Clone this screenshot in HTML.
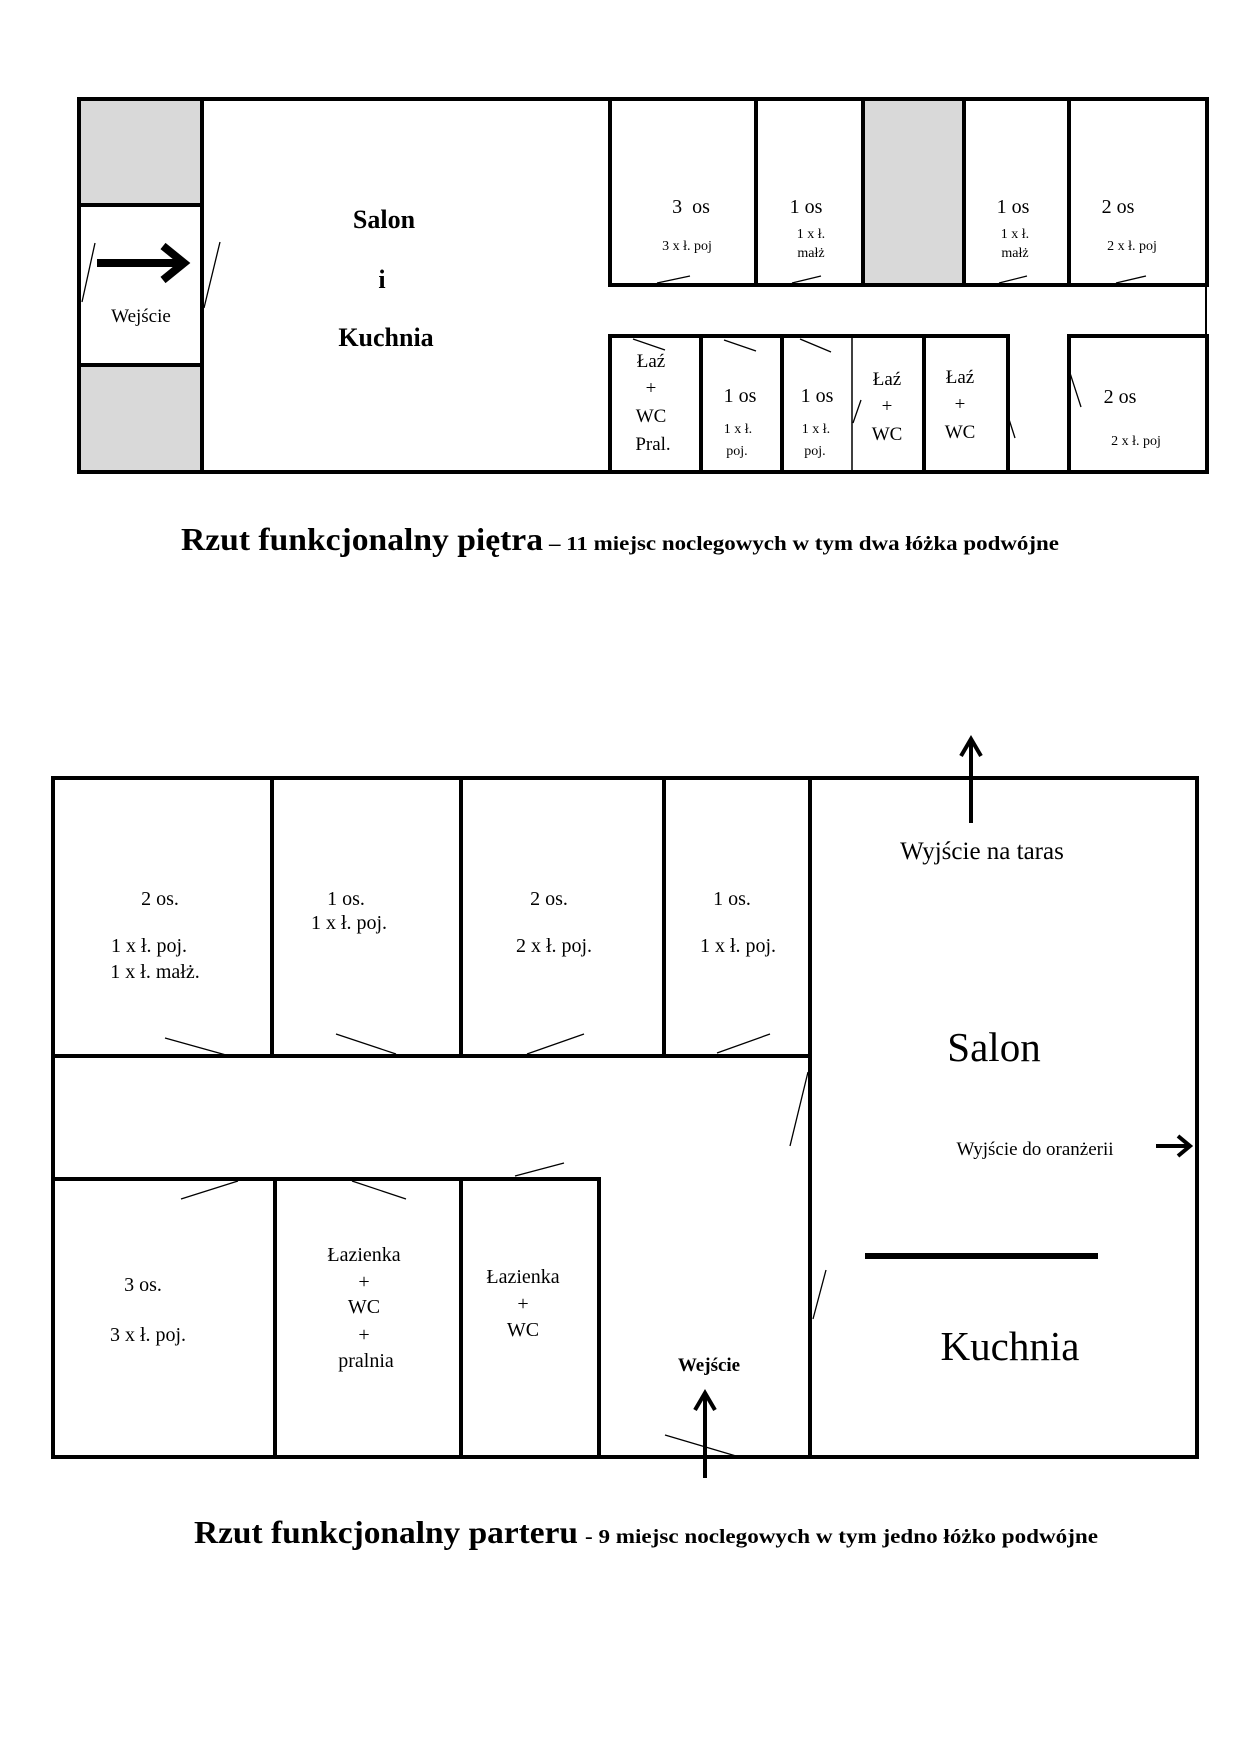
<!DOCTYPE html>
<html><head><meta charset="utf-8"><style>
html,body{margin:0;padding:0;background:#fff}
svg{display:block}
text{font-family:"Liberation Serif","DejaVu Serif",serif;fill:#000}
.w{stroke:#000;stroke-width:4;fill:none;stroke-linecap:square}
.d{stroke:#000;stroke-width:1.3;fill:none}
.b{font-weight:bold}
</style></head><body>
<svg width="1241" height="1755" viewBox="0 0 1241 1755" xmlns="http://www.w3.org/2000/svg">
<!-- TOP PLAN -->
<rect x="79" y="99" width="123" height="106" fill="#d9d9d9"/>
<rect x="79" y="365" width="123" height="107" fill="#d9d9d9"/>
<rect x="863" y="99" width="101" height="186" fill="#d9d9d9"/>
<path class="w" d="M79 99 H1207 V285 M1207 336 V472 H79 V99"/>
<path d="M1206 285 V336" stroke="#000" stroke-width="2"/>
<path class="w" d="M202 99 V472 M79 205 H202 M79 365 H202"/>
<path class="w" d="M610 99 V285 H1207 M756 99 V285 M863 99 V285 M964 99 V285 M1069 99 V285"/>
<path class="w" d="M610 336 H1008 V472 M610 336 V472 M701 336 V472 M782 336 V472 M924 336 V472"/>
<path d="M852 336 V472" stroke="#000" stroke-width="1.5"/>
<path class="w" d="M1069 336 H1207 M1069 336 V472"/>
<!-- door lines top -->
<path class="d" d="M95 243 L82 302 M220 242 L204 308 M657 283 L690 276 M792 283 L821 276 M999 283 L1027 276 M1116 283 L1146 276 M633 339 L665 350 M724 340 L756 351 M800 339 L831 352 M861 400 L853 423 M1007 413 L1015 438 M1070 373 L1081 407"/>
<!-- arrow -->
<path d="M97 263 H178" stroke="#000" stroke-width="8"/>
<path d="M163 246 L184 263 L163 280" stroke="#000" stroke-width="8" fill="none" stroke-linejoin="miter"/>
<text x="141" y="322" font-size="19" text-anchor="middle">Wejście</text>
<text class="b" x="384" y="228" font-size="26" text-anchor="middle">Salon</text>
<text class="b" x="382" y="288" font-size="26" text-anchor="middle">i</text>
<text class="b" x="386" y="346" font-size="26" text-anchor="middle">Kuchnia</text>
<text x="691" y="213" font-size="20" text-anchor="middle" xml:space="preserve">3  os</text>
<text x="687" y="250" font-size="14" text-anchor="middle">3 x ł. poj</text>
<text x="806" y="213" font-size="20" text-anchor="middle">1 os</text>
<text x="811" y="238" font-size="14" text-anchor="middle">1 x ł.</text>
<text x="811" y="257" font-size="14" text-anchor="middle">małż</text>
<text x="1013" y="213" font-size="20" text-anchor="middle">1 os</text>
<text x="1015" y="238" font-size="14" text-anchor="middle">1 x ł.</text>
<text x="1015" y="257" font-size="14" text-anchor="middle">małż</text>
<text x="1118" y="213" font-size="20" text-anchor="middle">2 os</text>
<text x="1132" y="250" font-size="14" text-anchor="middle">2 x ł. poj</text>
<text x="651" y="367" font-size="19" text-anchor="middle">Łaź</text>
<text x="651" y="394" font-size="19" text-anchor="middle">+</text>
<text x="651" y="422" font-size="19" text-anchor="middle">WC</text>
<text x="653" y="450" font-size="19" text-anchor="middle">Pral.</text>
<text x="740" y="402" font-size="20" text-anchor="middle">1 os</text>
<text x="738" y="433" font-size="14" text-anchor="middle">1 x ł.</text>
<text x="737" y="455" font-size="14" text-anchor="middle">poj.</text>
<text x="817" y="402" font-size="20" text-anchor="middle">1 os</text>
<text x="816" y="433" font-size="14" text-anchor="middle">1 x ł.</text>
<text x="815" y="455" font-size="14" text-anchor="middle">poj.</text>
<text x="887" y="385" font-size="19" text-anchor="middle">Łaź</text>
<text x="887" y="412" font-size="19" text-anchor="middle">+</text>
<text x="887" y="440" font-size="19" text-anchor="middle">WC</text>
<text x="960" y="383" font-size="19" text-anchor="middle">Łaź</text>
<text x="960" y="410" font-size="19" text-anchor="middle">+</text>
<text x="960" y="438" font-size="19" text-anchor="middle">WC</text>
<text x="1120" y="403" font-size="20" text-anchor="middle">2 os</text>
<text x="1136" y="445" font-size="14" text-anchor="middle">2 x ł. poj</text>
<text class="b" x="181" y="550" font-size="32" textLength="362" lengthAdjust="spacingAndGlyphs">Rzut funkcjonalny piętra</text>
<text class="b" x="549" y="550" font-size="20" textLength="510" lengthAdjust="spacingAndGlyphs">– 11 miejsc noclegowych w tym dwa łóżka podwójne</text>

<!-- BOTTOM PLAN -->
<path class="w" d="M53 778 H1197 V1457 H53 Z"/>
<path class="w" d="M810 778 V1457 M272 778 V1056 M461 778 V1056 M664 778 V1056 M53 1056 H810"/>
<path class="w" d="M53 1179 H599 V1457 M275 1179 V1457 M461 1179 V1457"/>
<path d="M865 1256 H1098" stroke="#000" stroke-width="6"/>
<path class="d" d="M165 1038 L226 1055 M336 1034 L396 1054 M584 1034 L527 1054 M770 1034 L717 1053 M808 1072 L790 1146 M181 1199 L238 1181 M352 1181 L406 1199 M515 1176 L564 1163 M826 1270 L813 1319 M665 1435 L736 1456"/>
<!-- arrows -->
<path d="M971 823 V742" stroke="#000" stroke-width="4"/>
<path d="M961 756 L971 739 L981 756" stroke="#000" stroke-width="4" fill="none"/>
<path d="M705 1478 V1396" stroke="#000" stroke-width="4"/>
<path d="M695 1410 L705 1393 L715 1410" stroke="#000" stroke-width="4" fill="none"/>
<path d="M1156 1146 H1188" stroke="#000" stroke-width="4"/>
<path d="M1178 1136 L1190 1146 L1178 1156" stroke="#000" stroke-width="4" fill="none"/>
<text x="982" y="859" font-size="25" text-anchor="middle">Wyjście na taras</text>
<text x="994" y="1061" font-size="41" text-anchor="middle">Salon</text>
<text x="1010" y="1360" font-size="41" text-anchor="middle">Kuchnia</text>
<text x="1035" y="1155" font-size="19" text-anchor="middle">Wyjście do oranżerii</text>
<text class="b" x="709" y="1371" font-size="19" text-anchor="middle">Wejście</text>
<text x="160" y="905" font-size="20" text-anchor="middle">2 os.</text>
<text x="149" y="952" font-size="20" text-anchor="middle">1 x ł. poj.</text>
<text x="155" y="978" font-size="20" text-anchor="middle">1 x ł. małż.</text>
<text x="346" y="905" font-size="20" text-anchor="middle">1 os.</text>
<text x="349" y="929" font-size="20" text-anchor="middle">1 x ł. poj.</text>
<text x="549" y="905" font-size="20" text-anchor="middle">2 os.</text>
<text x="554" y="952" font-size="20" text-anchor="middle">2 x ł. poj.</text>
<text x="732" y="905" font-size="20" text-anchor="middle">1 os.</text>
<text x="738" y="952" font-size="20" text-anchor="middle">1 x ł. poj.</text>
<text x="143" y="1291" font-size="20" text-anchor="middle">3 os.</text>
<text x="148" y="1341" font-size="20" text-anchor="middle">3 x ł. poj.</text>
<text x="364" y="1261" font-size="20" text-anchor="middle">Łazienka</text>
<text x="364" y="1288" font-size="20" text-anchor="middle">+</text>
<text x="364" y="1313" font-size="20" text-anchor="middle">WC</text>
<text x="364" y="1341" font-size="20" text-anchor="middle">+</text>
<text x="366" y="1367" font-size="20" text-anchor="middle">pralnia</text>
<text x="523" y="1283" font-size="20" text-anchor="middle">Łazienka</text>
<text x="523" y="1310" font-size="20" text-anchor="middle">+</text>
<text x="523" y="1336" font-size="20" text-anchor="middle">WC</text>
<text class="b" x="194" y="1543" font-size="32" textLength="384" lengthAdjust="spacingAndGlyphs">Rzut funkcjonalny parteru</text>
<text class="b" x="585" y="1543" font-size="20" textLength="513" lengthAdjust="spacingAndGlyphs">- 9 miejsc noclegowych w tym jedno łóżko podwójne</text>
</svg>
</body></html>
